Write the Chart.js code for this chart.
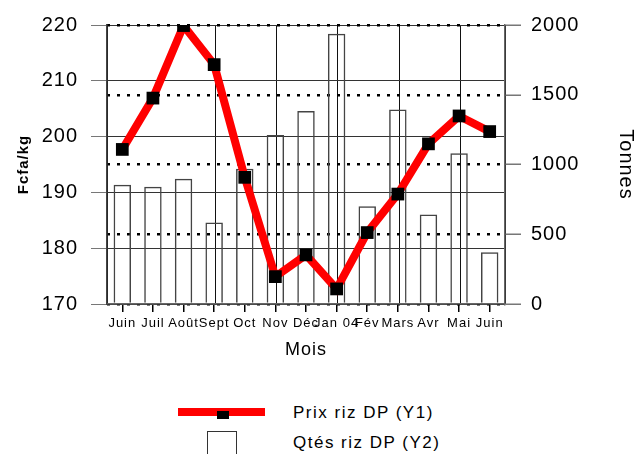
<!DOCTYPE html>
<html lang="fr">
<head>
<meta charset="UTF-8">
<title>Prix et quantités riz DP</title>
<style>
    * { box-sizing: border-box; margin: 0; padding: 0; }
    body {
        width: 638px;
        height: 454px;
        background: #ffffff;
        font-family: "Liberation Sans", Arial, sans-serif;
        color: #000;
        position: relative;
        overflow: hidden;
    }
    .chart-box {
        position: absolute;
        left: 0;
        top: 0;
        width: 638px;
        height: 370px;
    }
    .legend-line {
        position: absolute;
        left: 178px;
        top: 408px;
        width: 87px;
        height: 8px;
        background: #ff0000;
    }
    .legend-line span {
        position: absolute;
        left: 39px;
        top: 3px;
        width: 12px;
        height: 8px;
        background: #000;
    }
    .legend-box {
        position: absolute;
        left: 207px;
        top: 431px;
        width: 30px;
        height: 30px;
        border: 1px solid #333;
    }
    .legend-text {
        position: absolute;
        left: 293px;
        font-size: 17px;
        letter-spacing: 1.5px;
        line-height: 20px;
    }
</style>
</head>
<body>
<div class="chart-box"><canvas id="chart"></canvas></div>
<div class="legend-line"><span></span></div>
<div class="legend-text" id="lab1" style="top:403px"></div>
<div class="legend-box"></div>
<div class="legend-text" id="lab2" style="top:433px"></div>

<script src="https://cdn.jsdelivr.net/npm/chart.js"></script>
<script>
    // months, Juin 2003 -> Juin 2004
    const months = ['Juin', 'Juil', 'Août', 'Sept', 'Oct', 'Nov', 'Déc', 'Jan 04', 'Fév', 'Mars', 'Avr', 'Mai', 'Juin'];
    // price (Fcfa/kg, left axis)
    const prixRiz = [197.7, 206.9, 219.9, 212.9, 192.7, 174.9, 178.8, 172.7, 182.8, 189.7, 198.7, 203.7, 200.9];
    // quantities (tonnes, right axis)
    const qtesRiz = [855, 841, 898, 584, 969, 1212, 1383, 1938, 700, 1395, 641, 1081, 371];
    const prixTicks = [170, 180, 190, 200, 210, 220];
    const qteTicks = [0, 500, 1000, 1500, 2000];
    // range of the extra vertical grid (lines at whole numbers)
    const vGridRange = [-0.76, 5.72];

    const label1 = 'Prix riz DP (Y1)';
    const label2 = 'Qtés riz DP (Y2)';
    document.getElementById('lab1').textContent = label1;
    document.getElementById('lab2').textContent = label2;

    Chart.defaults.font.family = '"Liberation Sans", Arial, sans-serif';
    Chart.defaults.color = '#000';

    // the original export spaces its letters out a bit
    const spacing = {
        id: 'spacing',
        beforeUpdate(chart) { chart.ctx.letterSpacing = '1px'; },
        beforeDraw(chart) { chart.ctx.letterSpacing = '1px'; }
    };

    const ctx = document.getElementById('chart').getContext('2d');
    new Chart(ctx, {
        plugins: [spacing],
        data: {
            labels: months,
            datasets: [
                {
                    type: 'line',
                    label: label1,
                    data: prixRiz,
                    yAxisID: 'y',
                    order: 0,
                    borderColor: '#ff0000',
                    borderWidth: 8,
                    tension: 0,
                    pointStyle: 'rect',
                    pointRadius: 9,
                    pointBackgroundColor: '#000',
                    pointBorderColor: '#000',
                    pointBorderWidth: 0
                },
                {
                    type: 'bar',
                    label: label2,
                    data: qtesRiz,
                    yAxisID: 'y1',
                    order: 1,
                    backgroundColor: 'rgba(0,0,0,0)',
                    borderColor: '#444',
                    borderWidth: 1.5,
                    categoryPercentage: 1,
                    barPercentage: 0.57
                }
            ]
        },
        options: {
            responsive: true,
            maintainAspectRatio: false,
            animation: false,
            layout: { padding: { top: 25, left: 0, right: 0, bottom: 0 } },
            plugins: {
                legend: { display: false },
                tooltip: { enabled: false }
            },
            scales: {
                x: {
                    type: 'category',
                    offset: true,
                    grid: { offset: false, drawOnChartArea: false, color: '#000', tickLength: 8, lineWidth: 1.5 },
                    border: { display: true, color: '#666', width: 1.5 },
                    ticks: { autoSkip: false, maxRotation: 0, minRotation: 0, padding: 4, font: { size: 13 } },
                    title: { display: true, text: 'Mois', font: { size: 18 }, padding: { top: 2, bottom: 9 } },
                    afterFit: s => { s.height = 66; }
                },
                xg: {
                    type: 'linear',
                    position: 'top',
                    min: vGridRange[0],
                    max: vGridRange[1],
                    ticks: { display: false, stepSize: 1 },
                    grid: { color: '#111', drawTicks: false, lineWidth: 1 },
                    border: { display: false },
                    afterFit: s => { s.height = 0; }
                },
                y: {
                    position: 'left',
                    min: prixTicks[0],
                    max: prixTicks[prixTicks.length - 1],
                    ticks: { stepSize: 10, padding: 13, font: { size: 20 }, callback: v => String(v) },
                    grid: { color: '#333', tickColor: '#777', tickLength: 16, lineWidth: 1 },
                    border: { display: true, color: '#444', width: 1.5 },
                    title: { display: true, text: 'Fcfa/kg', font: { size: 15, weight: 'bold' }, padding: { top: 15, bottom: 0 } },
                    afterFit: s => { s.width = 107; }
                },
                y1: {
                    position: 'right',
                    min: qteTicks[0],
                    max: qteTicks[qteTicks.length - 1],
                    ticks: { stepSize: 500, padding: 10, font: { size: 20 }, callback: v => String(v) },
                    grid: {
                        color: '#000', lineWidth: 2.5,
                        tickColor: '#777', tickLength: 16, tickWidth: 1.5, tickBorderDash: [1, 0]
                    },
                    border: { display: true, color: '#666', width: 1.5, dash: [3, 7] },
                    title: { display: true, text: 'Tonnes', font: { size: 20 }, padding: { top: 0, bottom: 0 } },
                    afterFit: s => { s.width = 133; }
                }
            }
        }
    });
</script>
</body>
</html>
